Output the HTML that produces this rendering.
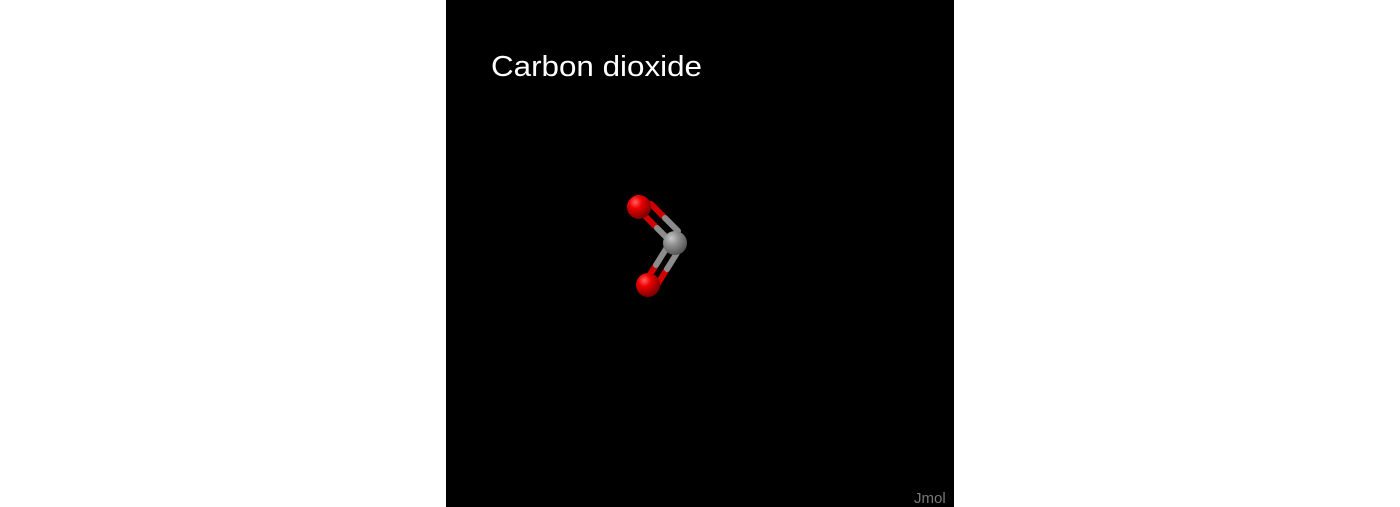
<!DOCTYPE html>
<html><head><meta charset="utf-8"><style>
html,body{margin:0;padding:0;width:1400px;height:507px;background:#fff;overflow:hidden}
svg{display:block}
</style></head><body>
<svg width="1400" height="507" viewBox="0 0 1400 507">
<defs>
<radialGradient id="gO" cx="0.35" cy="0.3" r="0.75"><stop offset="0" stop-color="#ff6060"/><stop offset="0.35" stop-color="#ee0000"/><stop offset="1" stop-color="#700000"/></radialGradient>
<radialGradient id="gC" cx="0.35" cy="0.3" r="0.75"><stop offset="0" stop-color="#c8c8c8"/><stop offset="0.4" stop-color="#909090"/><stop offset="1" stop-color="#505050"/></radialGradient>
</defs>
<rect x="446" y="0" width="508" height="507" fill="#000"/>
<text x="491" y="76" fill="#fff" font-family="'Liberation Sans',sans-serif" font-size="29" textLength="211" lengthAdjust="spacingAndGlyphs">Carbon dioxide</text>
<g stroke-width="6" stroke-linecap="round">
<line x1="643" y1="214" x2="657" y2="228" stroke="#d00000"/><line x1="657" y1="228" x2="670" y2="241" stroke="#8c8c8c"/>
<line x1="651" y1="204" x2="665" y2="218" stroke="#d00000"/><line x1="665" y1="218" x2="678" y2="231" stroke="#8c8c8c"/>
</g>
<g stroke-width="6" stroke-linecap="round">
<line x1="646" y1="281" x2="656" y2="265" stroke="#d00000"/><line x1="656" y1="265" x2="666" y2="249" stroke="#8c8c8c"/>
<line x1="657" y1="285" x2="667" y2="269" stroke="#d00000"/><line x1="667" y1="269" x2="677" y2="253" stroke="#8c8c8c"/>
</g>
<circle cx="639" cy="207" r="12" fill="url(#gO)"/>
<circle cx="675" cy="243" r="12" fill="url(#gC)"/>
<circle cx="648" cy="285" r="12" fill="url(#gO)"/>
<text x="914" y="503" fill="#777" font-family="'Liberation Sans',sans-serif" font-size="15">Jmol</text>
</svg>
</body></html>
